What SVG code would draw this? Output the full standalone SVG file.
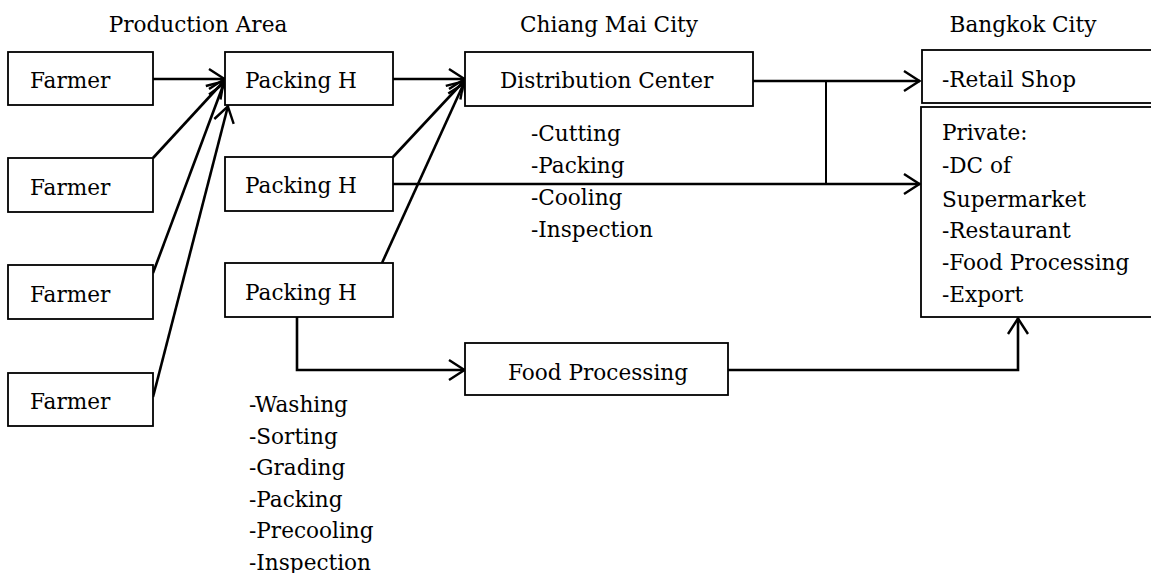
<svg xmlns="http://www.w3.org/2000/svg" width="1151" height="573" viewBox="0 0 1151 573">
  <style>
    .box { fill: #ffffff; stroke: #000000; stroke-width: 1.8; }
    .t { font-family: "DejaVu Serif", "Liberation Serif", serif; font-size: 21.6px; fill: #000000; }
    .hdr { font-family: "DejaVu Serif", "Liberation Serif", serif; font-size: 21.6px; fill: #000000; text-anchor: middle; }
    .flow { fill: none; stroke: #000000; stroke-width: 2.6; }
    .arr { marker-end: url(#chev); }
  </style>
  <defs>
    <marker id="chev" markerUnits="userSpaceOnUse" viewBox="0 0 18 24" refX="17" refY="12" markerWidth="18" markerHeight="24" orient="auto" overflow="visible">
      <path d="M1,2 L16.5,12 L1,22" fill="none" stroke="#000000" stroke-width="2.4" stroke-linejoin="miter"/>
    </marker>
  </defs>

  <rect width="1151" height="573" fill="#ffffff"/>

  <!-- region headings -->
  <g id="headings">
    <text class="hdr" x="198" y="32">Production Area</text>
    <text class="hdr" x="609" y="32">Chiang Mai City</text>
    <text class="hdr" x="1023" y="32">Bangkok City</text>
  </g>

  <!-- flows between stages -->
  <g id="connectors">
    <!-- farmers to packing house -->
    <line class="flow arr" x1="153" y1="79" x2="225" y2="79"/>
    <line class="flow arr" x1="153" y1="158" x2="224" y2="81"/>
    <line class="flow arr" x1="153" y1="273" x2="224" y2="83"/>
    <line class="flow arr" x1="153" y1="397" x2="228" y2="106"/>
    <!-- packing houses to distribution center -->
    <line class="flow arr" x1="393" y1="79" x2="465" y2="79"/>
    <line class="flow arr" x1="393" y1="157" x2="464" y2="81"/>
    <line class="flow arr" x1="382" y1="263" x2="464" y2="83"/>
    <!-- distribution center and packing house to Bangkok -->
    <line class="flow arr" x1="753" y1="81" x2="920" y2="81"/>
    <line class="flow arr" x1="393" y1="184" x2="920" y2="184"/>
    <line class="flow" x1="826" y1="81" x2="826" y2="184" style="stroke-width:2"/>
    <!-- packing house to food processing to private buyers -->
    <polyline class="flow arr" points="297,317 297,370 465,370"/>
    <polyline class="flow arr" points="728,370 1018,370 1018,318"/>
  </g>

  <!-- farmers -->
  <g id="farmer1">
    <rect class="box" x="8" y="52" width="145" height="53"/>
    <text class="t" x="30" y="88">Farmer</text>
  </g>
  <g id="farmer2">
    <rect class="box" x="8" y="158" width="145" height="54"/>
    <text class="t" x="30" y="195">Farmer</text>
  </g>
  <g id="farmer3">
    <rect class="box" x="8" y="265" width="145" height="54"/>
    <text class="t" x="30" y="302">Farmer</text>
  </g>
  <g id="farmer4">
    <rect class="box" x="8" y="373" width="145" height="53"/>
    <text class="t" x="30" y="409">Farmer</text>
  </g>

  <!-- packing houses -->
  <g id="packing1">
    <rect class="box" x="225" y="52" width="168" height="53"/>
    <text class="t" x="245" y="88">Packing H</text>
  </g>
  <g id="packing2">
    <rect class="box" x="225" y="157" width="168" height="54"/>
    <text class="t" x="245" y="193">Packing H</text>
  </g>
  <g id="packing3">
    <rect class="box" x="225" y="263" width="168" height="54"/>
    <text class="t" x="245" y="300">Packing H</text>
  </g>

  <!-- packing house operations -->
  <g id="packing-steps">
    <text class="t" x="249" y="412">-Washing</text>
    <text class="t" x="249" y="444">-Sorting</text>
    <text class="t" x="249" y="475">-Grading</text>
    <text class="t" x="249" y="507">-Packing</text>
    <text class="t" x="249" y="538">-Precooling</text>
    <text class="t" x="249" y="570">-Inspection</text>
  </g>

  <!-- distribution center -->
  <g id="distribution-center">
    <rect class="box" x="465" y="52" width="288" height="54"/>
    <text class="t" x="500" y="88">Distribution Center</text>
  </g>
  <g id="dc-steps">
    <text class="t" x="531" y="141">-Cutting</text>
    <text class="t" x="531" y="173">-Packing</text>
    <text class="t" x="531" y="205">-Cooling</text>
    <text class="t" x="531" y="237">-Inspection</text>
  </g>

  <!-- food processing -->
  <g id="food-processing">
    <rect class="box" x="465" y="343" width="263" height="52"/>
    <text class="t" x="508" y="380">Food Processing</text>
  </g>

  <!-- Bangkok buyers -->
  <g id="retail-shop">
    <rect class="box" x="922" y="50" width="240" height="53"/>
    <text class="t" x="942" y="87">-Retail Shop</text>
  </g>
  <g id="private-buyers">
    <rect class="box" x="921" y="107" width="241" height="210"/>
    <text class="t" x="942" y="140">Private:</text>
    <text class="t" x="942" y="173">-DC of</text>
    <text class="t" x="942" y="207">Supermarket</text>
    <text class="t" x="942" y="238">-Restaurant</text>
    <text class="t" x="942" y="270">-Food Processing</text>
    <text class="t" x="942" y="302">-Export</text>
  </g>
</svg>
